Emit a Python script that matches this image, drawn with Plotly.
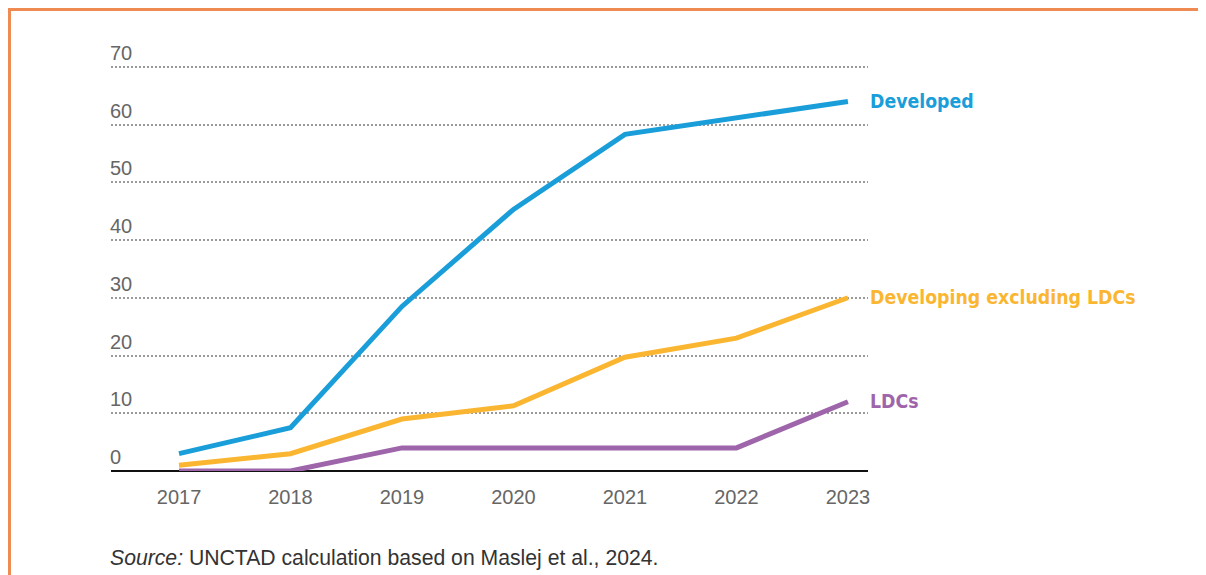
import plotly.graph_objects as go

years = [2017, 2018, 2019, 2020, 2021, 2022, 2023]
developed = [3, 7.5, 28.5, 45.3, 58.3, 61.2, 64]
developing_ex_ldcs = [1, 3, 9, 11.3, 19.7, 23, 30]
ldcs = [0, 0, 4, 4, 4, 4, 12]
y_ticks = [0, 10, 20, 30, 40, 50, 60, 70]

series_names = ["Developed", "Developing excluding LDCs", "LDCs"]
series_values = [developed, developing_ex_ldcs, ldcs]
colors = ["#1a9ed9", "#fbb631", "#9e65aa"]

fig = go.Figure()
for name, vals, col in zip(series_names, series_values, colors):
    fig.add_trace(go.Scatter(x=years, y=vals, mode="lines", name=name,
                             line=dict(color=col, width=5), showlegend=False,
                             hoverinfo="skip"))
    fig.add_annotation(x=years[-1], y=vals[-1], xref="x", yref="y",
                       text="<b>" + name + "</b>", showarrow=False,
                       xanchor="left", yanchor="middle", xshift=20,
                       font=dict(family="DejaVu Sans Condensed, DejaVu Sans", size=19.3, color=col))

for t in y_ticks:
    fig.add_annotation(x=0, y=t, xref="paper", yref="y", text=str(t),
                       showarrow=False, xanchor="left", yanchor="bottom",
                       yshift=1, xshift=-3,
                       font=dict(family="Liberation Sans, Arial", size=20, color="#666666"))

fig.add_annotation(x=0, y=-0.212, xref="paper", yref="paper",
                   text="<i>Source:</i> UNCTAD calculation based on Maslej et al., 2024.",
                   showarrow=False, xanchor="left", yanchor="middle", xshift=-3,
                   font=dict(family="Liberation Sans, Arial", size=21.2, color="#333333"))

# orange frame (left and top), at the figure's own edge
fig.add_shape(type="line", xref="paper", yref="paper", x0=-0.1361, x1=1.5, y0=1.1255, y1=1.1255,
              line=dict(color="#ef8a52", width=3))
fig.add_shape(type="line", xref="paper", yref="paper", x0=-0.1341, x1=-0.1341, y0=1.1255, y1=-0.3,
              line=dict(color="#ef8a52", width=3))

fig.update_layout(
    width=1206, height=575,
    margin=dict(l=103, r=346, t=53, b=112),
    plot_bgcolor="white", paper_bgcolor="white",
    xaxis=dict(range=[2016.39, 2023.18], tickmode="array", tickvals=years,
               ticktext=[str(y) for y in years], showgrid=False, zeroline=False,
               showline=False, ticks="", ticklabelstandoff=12,
               tickfont=dict(family="Liberation Sans, Arial", size=20, color="#666666")),
    yaxis=dict(range=[0, 71], tickvals=y_ticks, showticklabels=False,
               showgrid=True, gridcolor="#9a9a9a", griddash="1.5px,2.5px", gridwidth=1.5,
               zeroline=True, zerolinecolor="#111111", zerolinewidth=2,
               showline=False),
)
fig.write_html("out.html")
